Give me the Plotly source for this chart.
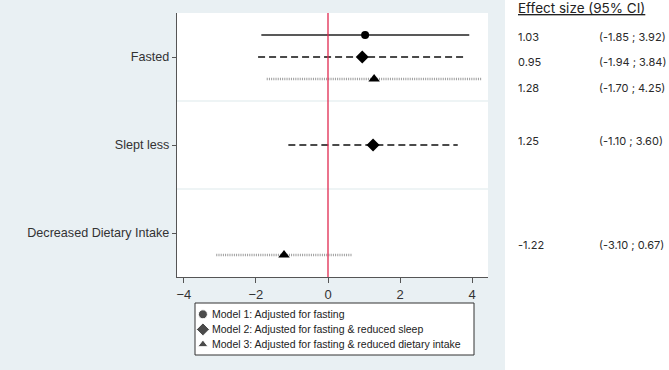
import plotly.graph_objects as go

categories = ["Fasted", "Slept less", "Decreased Dietary Intake"]
models = ["Model 1: Adjusted for fasting",
          "Model 2: Adjusted for fasting & reduced sleep",
          "Model 3: Adjusted for fasting & reduced dietary intake"]

# per model: category index, estimate, lower, upper
m1_cat = [0]
m1_est = [1.03]
m1_lo = [-1.85]
m1_hi = [3.92]

m2_cat = [0, 1]
m2_est = [0.95, 1.25]
m2_lo = [-1.94, -1.10]
m2_hi = [3.84, 3.60]

m3_cat = [0, 2]
m3_est = [1.28, -1.22]
m3_lo = [-1.70, -3.10]
m3_hi = [4.25, 0.67]

x_ticks = [-4, -2, 0, 2, 4]

# ---- styling / layout constants ----
W, H = 669, 370
def px(x): return x / W
def py(y): return 1 - y / H

offsets = [-0.25, 0.0, 0.25]
symbols = ["circle", "diamond", "triangle-up"]
msizes = [8, 10, 10]
leg_sizes = [9, 10, 9]
line_colors = ["#222222", "#4a4a4a", "#9c9c9c"]
line_dash = ["solid", "7px,4px", "1px,1.2px"]
line_width = [1.3, 1.8, 2.4]
BG = "#e9f0f3"
TFONT = "Inter, Noto Sans, sans-serif"

series = [(m1_cat, m1_est, m1_lo, m1_hi),
          (m2_cat, m2_est, m2_lo, m2_hi),
          (m3_cat, m3_est, m3_lo, m3_hi)]

fig = go.Figure()

# plot area background (first so later below-shapes sit on top)
fig.add_shape(type="rect", xref="x domain", yref="y domain", x0=0, x1=1, y0=0, y1=1,
              fillcolor="white", line=dict(width=0), layer="below")
# white right panel
fig.add_shape(type="rect", xref="paper", yref="paper", x0=px(505), x1=1, y0=0, y1=1,
              fillcolor="white", line=dict(width=0), layer="below")
# separators between categories
for yv in [0.5, 1.5]:
    fig.add_shape(type="line", xref="x domain", x0=0, x1=1, y0=yv, y1=yv,
                  line=dict(color="#e8f0f2", width=1.5), layer="below")

for i, (cat, est, lo, hi) in enumerate(series):
    ys = [c + offsets[i] for c in cat]
    lx, ly = [], []
    for y, a, b in zip(ys, lo, hi):
        lx += [a, b, None]
        ly += [y, y, None]
    fig.add_trace(go.Scatter(x=lx, y=ly, mode="lines", showlegend=False,
                             line=dict(color=line_colors[i], width=line_width[i], dash=line_dash[i]),
                             hoverinfo="skip"))
for i, (cat, est, lo, hi) in enumerate(series):
    ys = [c + offsets[i] for c in cat]
    fig.add_trace(go.Scatter(x=est, y=ys, mode="markers", name=models[i], showlegend=False,
                             marker=dict(symbol=symbols[i], size=msizes[i], color="black")))

# zero reference line
fig.add_shape(type="line", x0=0, x1=0, yref="y domain", y0=0, y1=1,
              line=dict(color="#e0294f", width=1.3))

# manual legend on its own hidden axes
fig.add_shape(type="rect", xref="x2 domain", yref="y2 domain", x0=0, x1=1, y0=0, y1=1,
              line=dict(color="#333", width=1), fillcolor="white", layer="below")
fig.add_trace(go.Scatter(x=[0, 0, 0], y=[0, 1, 2], mode="markers", xaxis="x2", yaxis="y2",
                         showlegend=False, hoverinfo="skip",
                         marker=dict(symbol=symbols, size=leg_sizes, color="black")))
for i, m in enumerate(models):
    fig.add_annotation(xref="x2", yref="y2", x=0.6, y=i, text=m, showarrow=False,
                       xanchor="left", yanchor="middle",
                       font=dict(family="Liberation Sans, Arial, sans-serif", size=10.5, color="#222"))

# right-hand text table
fig.add_annotation(xref="paper", yref="paper", x=px(516), y=py(8), xanchor="left", yanchor="middle",
                   text="<u>Effect size (95% CI)</u>", showarrow=False,
                   font=dict(family=TFONT, size=13.5, color="#222"))
text_y = [37, 62, 88, 141, 245]
rows = [(m1_est[0], m1_lo[0], m1_hi[0]), (m2_est[0], m2_lo[0], m2_hi[0]),
        (m3_est[0], m3_lo[0], m3_hi[0]), (m2_est[1], m2_lo[1], m2_hi[1]),
        (m3_est[1], m3_lo[1], m3_hi[1])]
for ty, (e, a, b) in zip(text_y, rows):
    fig.add_annotation(xref="paper", yref="paper", x=px(516), y=py(ty), xanchor="left", yanchor="middle",
                       text=f"{e:.2f}", showarrow=False,
                       font=dict(family=TFONT, size=11, color="#2a2a2a"))
    fig.add_annotation(xref="paper", yref="paper", x=px(597), y=py(ty), xanchor="left", yanchor="middle",
                       text=f"({a:.2f} ; {b:.2f})", showarrow=False,
                       font=dict(family=TFONT, size=11, color="#2a2a2a"))

fig.update_layout(
    width=W, height=H,
    margin=dict(l=0, r=0, t=0, b=0),
    paper_bgcolor=BG, plot_bgcolor="rgba(0,0,0,0)",
    font=dict(family="Liberation Sans, Arial, sans-serif", size=12, color="#333"),
    showlegend=False,
    xaxis=dict(domain=[px(177), px(488)], range=[-4.19, 4.44], tickvals=x_ticks, showgrid=False,
               zeroline=False, showline=True, linecolor="#555", linewidth=1, ticks="outside",
               ticklen=5, tickcolor="#555", tickfont=dict(size=13, color="#333")),
    yaxis=dict(domain=[py(277), py(13)], range=[2.5, -0.5], tickvals=[0, 1, 2], ticktext=categories,
               showgrid=False, zeroline=False, showline=True, linecolor="#555", linewidth=1.2,
               ticks="outside", ticklen=4, tickcolor="#555", tickfont=dict(size=12.6, color="#333")),
    xaxis2=dict(domain=[px(195), px(474)], range=[-0.7, 24], visible=False, fixedrange=True),
    yaxis2=dict(domain=[py(355), py(303)], range=[2.7, -0.75], visible=False, anchor="x2",
                fixedrange=True),
)

fig.write_html("out.html", config={"displayModeBar": False},
               post_script="document.body.style.margin='0px';document.body.style.overflow='hidden';")
